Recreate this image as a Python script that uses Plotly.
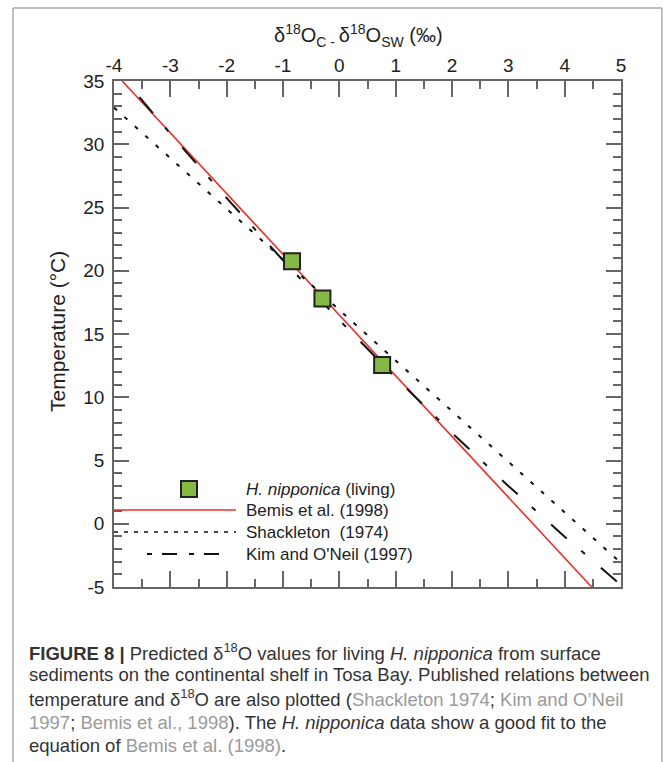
import plotly.graph_objects as go

# ---------------- data ----------------
living_x = [-0.84, -0.30, 0.76]
living_t = [20.75, 17.8, 12.55]

bemis_x = [-3.854, 4.479]
bemis_t = [35.0, -5.0]

shackleton_x = [-4.0, 5.0]
shackleton_t = [32.9, -3.1]

kim_x = [-3.79, -3.0, -2.0, -1.0, 0.0, 1.0, 2.0, 3.0, 4.0, 5.0]
kim_t = [35.0, 30.83, 25.74, 20.83, 16.1, 11.55, 7.18, 2.99, -1.02, -4.85]

x_ticks = [-4, -3, -2, -1, 0, 1, 2, 3, 4, 5]
x_ticktext = ["-4", "-3", "-2", "-1", "0", "1", "2", "3", "4", "5"]
y_ticks = [-5, 0, 5, 10, 15, 20, 25, 30, 35]
y_ticktext = ["-5", "0", "5", "10", "15", "20", "25", "30", "35"]

legend_labels = ["<i>H. nipponica</i> (living)", "Bemis et al. (1998)",
                 "Shackleton\u00a0\u00a0(1974)", "Kim and O'Neil (1997)"]

caption_lines = [
    "<b>FIGURE 8 |</b> Predicted δ<sup>18</sup>O values for living <i>H. nipponica</i> from surface",
    "sediments on the continental shelf in Tosa Bay. Published relations between",
    "temperature and δ<sup>18</sup>O are also plotted (<span style='color:#9a9a9a'>Shackleton 1974</span>; "
    "<span style='color:#9a9a9a'>Kim and O’Neil</span>",
    "<span style='color:#9a9a9a'>1997</span>; <span style='color:#9a9a9a'>Bemis et al., 1998</span>). "
    "The <i>H. nipponica</i> data show a good fit to the",
    "equation of <span style='color:#9a9a9a'>Bemis et al. (1998)</span>.",
]

# ---------------- geometry ----------------
W, H = 663, 762
ML, MR, MT, MB = 114, 42, 81, 175
PW, PH = W - ML - MR, H - MT - MB


def px(x):
    return (x - ML) / PW


def py(y):
    return (H - MB - y) / PH


RED = "#e8322b"
GREEN = "#86b943"
AX = "#666666"
FONT = "Liberation Sans, Arial, sans-serif"

fig = go.Figure()
fig.add_trace(go.Scatter(x=bemis_x, y=bemis_t, mode="lines",
                         line=dict(color=RED, width=1.6), showlegend=False))
fig.add_trace(go.Scatter(x=shackleton_x, y=shackleton_t, mode="lines",
                         line=dict(color="#111", width=2, dash="4px,10px"), showlegend=False))
fig.add_trace(go.Scatter(x=kim_x, y=kim_t, mode="lines",
                         line=dict(color="#111", width=2, dash="0px,21px,21px,19px,5px,0px"),
                         showlegend=False))
fig.add_trace(go.Scatter(x=living_x, y=living_t, mode="markers",
                         marker=dict(symbol="square", size=16, color=GREEN,
                                     line=dict(color="#222", width=2)),
                         showlegend=False))

shapes = []
# card border
for (x0, y0, x1, y1) in [(13, 8, 662, 8), (13, 8, 13, 770), (662, 8, 662, 770)]:
    shapes.append(dict(type="line", xref="paper", yref="paper",
                       x0=px(x0), y0=py(y0), x1=px(x1), y1=py(y1),
                       line=dict(color="#aaaaaa", width=1.5), layer="below"))

# legend samples
rows = [489, 510, 532, 554]
shapes.append(dict(type="rect", xref="paper", yref="paper",
                   x0=px(181), x1=px(197), y0=py(481), y1=py(497),
                   fillcolor=GREEN, line=dict(color="#222", width=2)))
shapes.append(dict(type="line", xref="paper", yref="paper",
                   x0=px(114), x1=px(236), y0=py(rows[1]), y1=py(rows[1]),
                   line=dict(color=RED, width=1.6)))
shapes.append(dict(type="line", xref="paper", yref="paper",
                   x0=px(114), x1=px(236), y0=py(rows[2]), y1=py(rows[2]),
                   line=dict(color="#111", width=1.6, dash="4px,6px")))
shapes.append(dict(type="line", xref="paper", yref="paper",
                   x0=px(147), x1=px(222), y0=py(rows[3]), y1=py(rows[3]),
                   line=dict(color="#111", width=1.8, dash="5px,10px,15px,12px")))

annotations = []
for lbl, r in zip(legend_labels, rows):
    annotations.append(dict(xref="paper", yref="paper", x=px(244), y=py(r),
                            xanchor="left", yanchor="middle", showarrow=False,
                            text=lbl, font=dict(family=FONT, size=17, color="#222")))

# axis titles
annotations.append(dict(xref="paper", yref="paper", x=px(358), y=py(35),
                        xanchor="center", yanchor="middle", showarrow=False,
                        text="δ<sup>18</sup>O<sub>C - </sub>δ<sup>18</sup>O<sub>SW</sub> (‰)",
                        font=dict(family=FONT, size=20, color="#222")))
annotations.append(dict(xref="paper", yref="paper", x=px(57), y=py(332),
                        xanchor="center", yanchor="middle", showarrow=False, textangle=-90,
                        text="Temperature (°C)",
                        font=dict(family=FONT, size=21, color="#222")))

# caption
cap_rows = [652, 675, 698, 722, 745]
for t, r in zip(caption_lines, cap_rows):
    annotations.append(dict(xref="paper", yref="paper", x=px(27), y=py(r),
                            xanchor="left", yanchor="middle", showarrow=False,
                            text=t, font=dict(family=FONT, size=18.5, color="#333")))

axis_common = dict(showgrid=False, zeroline=False, showline=True, linecolor=AX, linewidth=1.5,
                   mirror="allticks", ticks="inside", tickcolor=AX, tickwidth=1.5,
                   tickfont=dict(family=FONT, size=19, color="#222"))

fig.update_layout(
    width=W, height=H, autosize=False,
    margin=dict(l=ML, r=MR, t=MT, b=MB, pad=0),
    paper_bgcolor="white", plot_bgcolor="white",
    xaxis=dict(range=[-4, 5], side="top", tickvals=x_ticks, ticktext=x_ticktext, ticklen=16,
               ticklabelstandoff=0,
               minor=dict(dtick=0.5, ticklen=8, ticks="inside", tickcolor=AX, tickwidth=1.5),
               **axis_common),
    yaxis=dict(range=[-5, 35], tickvals=y_ticks, ticktext=y_ticktext, ticklen=15,
               ticklabelstandoff=4,
               minor=dict(dtick=1, ticklen=8, ticks="inside", tickcolor=AX, tickwidth=1.5),
               **axis_common),
    shapes=shapes, annotations=annotations, showlegend=False,
)

fig.write_html("out.html", config={"displayModeBar": False},
               post_script="document.body.style.margin='0';document.body.style.overflow='hidden';")
